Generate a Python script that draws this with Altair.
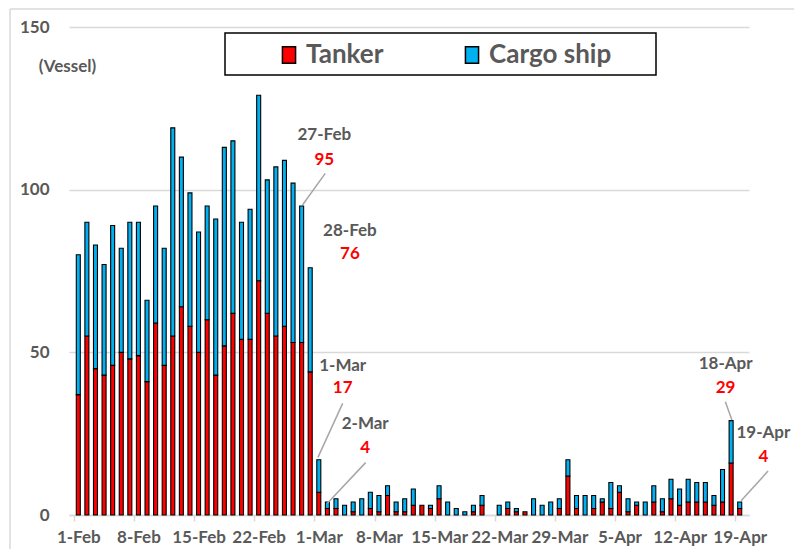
import altair as alt
import pandas as pd

# ---------------- data ----------------
feb_tanker = [37, 55, 45, 43, 46, 50, 48, 49, 41, 59, 46, 55, 64, 58, 50, 60, 43, 52, 62, 54, 54, 72, 62, 55, 58, 53, 53, 44]
feb_cargo = [43, 35, 38, 34, 43, 32, 42, 41, 25, 36, 36, 64, 46, 41, 37, 35, 48, 61, 53, 36, 40, 57, 41, 52, 51, 49, 42, 32]
mar_tanker = [7, 2, 2, 0, 1, 0, 2, 1, 6, 1, 1, 3, 3, 2, 5, 0, 0, 0, 1, 3, 0, 0, 2, 1, 1, 0, 0, 0, 2, 12, 2]
mar_cargo = [10, 2, 3, 3, 3, 5, 5, 5, 3, 3, 4, 5, 0, 1, 4, 4, 2, 1, 2, 3, 0, 3, 2, 1, 0, 5, 3, 4, 3, 5, 4]
apr_tanker = [0, 2, 4, 2, 7, 1, 3, 0, 4, 1, 5, 3, 4, 4, 4, 3, 4, 16, 2]
apr_cargo = [6, 4, 1, 8, 2, 4, 1, 4, 5, 4, 6, 5, 7, 6, 6, 3, 10, 13, 2]

series_names = ["Tanker", "Cargo ship"]
series_colors = ["#FF0000", "#00B0F0"]

tick_dates = ["2022-02-01", "2022-02-08", "2022-02-15", "2022-02-22", "2022-03-01", "2022-03-08",
              "2022-03-15", "2022-03-22", "2022-03-29", "2022-04-05", "2022-04-12", "2022-04-19"]
y_ticks = [0, 50, 100, 150]

ann_dates = ["2022-02-27", "2022-02-28", "2022-03-01", "2022-03-02", "2022-04-18", "2022-04-19"]
ann_names = ["27-Feb", "28-Feb", "1-Mar", "2-Mar", "18-Apr", "19-Apr"]
ann_values = [95, 76, 17, 4, 29, 4]

# annotation layout (offsets in days / vessel units from each bar top)
ann_label_dx = [2.64, 4.62, 2.78, 4.4, -0.64, 2.75]
ann_name_y = [116.8, 87.4, 45.8, 28.0, 46.3, 25.3]
ann_num_y = [109.1, 80.2, 39.0, 20.7, 39.1, 17.9]
ann_line = [(0.1, 95.3, 2.75, 105.0), None, (-0.1, 17.7, 2.78, 34.3), (0.0, 3.6, 4.45, 16.1),
            (0.09, 29.2, -0.67, 34.8), (0.16, 4.4, 3.3, 13.5)]

# ---------------- build tables ----------------
DAY = 86400000


def ms(s):
    return int(pd.Timestamp(s, tz="UTC").timestamp() * 1000)


dates = [d.strftime("%Y-%m-%d") for d in pd.date_range("2022-02-01", "2022-04-19", freq="D")]
tanker = feb_tanker + mar_tanker + apr_tanker
cargo = feb_cargo + mar_cargo + apr_cargo

rows = []
for d, t, c in zip(dates, tanker, cargo):
    if t > 0:
        rows.append({"date": ms(d), "type": "Tanker", "value": t, "ord": 0})
    if c > 0:
        rows.append({"date": ms(d), "type": "Cargo ship", "value": c, "ord": 1})
bars_df = pd.DataFrame(rows)

ann_rows = []
line_rows = []
for i, d in enumerate(ann_dates):
    base = ms(d)
    ann_rows.append({"lx": base + ann_label_dx[i] * DAY, "name_y": ann_name_y[i],
                     "num_y": ann_num_y[i], "name": ann_names[i], "num": str(ann_values[i])})
    if ann_line[i] is not None:
        sx, sy, ex, ey = ann_line[i]
        line_rows.append({"x1": base + sx * DAY, "y1": sy, "x2": base + ex * DAY, "y2": ey})
ann_df = pd.DataFrame(ann_rows)
line_df = pd.DataFrame(line_rows)

FONT = "Lato"
GREY = "#595959"
W, H = 680, 488

x_scale = alt.Scale(type="utc", domain=[ms("2022-01-31") + DAY / 2, ms("2022-04-19") + DAY / 2], nice=False)
y_scale = alt.Scale(domain=[0, 150], nice=False)
half_day_px = W / 78 / 2

bars = alt.Chart(bars_df).mark_bar(size=4.0, stroke="black", strokeWidth=1.1).encode(
    x=alt.X("date:T", scale=x_scale,
            axis=alt.Axis(values=[ms(t) for t in tick_dates], title=None,
                          labelExpr="utcFormat(datum.value, '%-d-%b')",
                          tickOffset=-half_day_px, labelOffset=half_day_px,
                          domainColor="#d9d9d9", domainWidth=1.5, tickColor="#d9d9d9",
                          tickWidth=1.5, tickSize=6, labelPadding=8, grid=False,
                          labelFont=FONT, labelFontSize=17, labelFontWeight="bold",
                          labelColor=GREY, labelFlush=False, labelOverlap=False)),
    y=alt.Y("value:Q", stack="zero", scale=y_scale,
            axis=alt.Axis(values=y_ticks, title="(Vessel)", titleAngle=0, titleX=-2, titleY=39,
                          titleAlign="center", titleBaseline="middle", titleFont=FONT,
                          titleFontSize=17, titleFontWeight="bold", titleColor=GREY,
                          domain=False, ticks=False, labelPadding=20, gridColor="#d9d9d9",
                          gridWidth=1.5, labelFont=FONT, labelFontSize=17,
                          labelFontWeight="bold", labelColor=GREY)),
    color=alt.Color("type:N", scale=alt.Scale(domain=series_names, range=series_colors),
                    legend=alt.Legend(title=None, orient="none", legendX=207, legendY=15,
                                      direction="horizontal", symbolType="M-0.8,-1H0.8V1H-0.8Z",
                                      symbolSize=270, symbolStrokeColor="black",
                                      symbolStrokeWidth=1.5, labelFont=FONT, labelFontSize=26,
                                      labelFontWeight="bold", labelColor=GREY, labelOffset=4,
                                      columnPadding=75, padding=0)),
    order=alt.Order("ord:Q"),
)

one = pd.DataFrame({"k": [0]})
frame_left = alt.Chart(one).mark_rule(color="#d9d9d9", strokeWidth=1.5).encode(
    x=alt.value(-59), y=alt.value(-18), y2=alt.value(H + 200))
frame_top = alt.Chart(one).mark_rule(color="#d9d9d9", strokeWidth=1.5).encode(
    x=alt.value(-59), x2=alt.value(W + 200), y=alt.value(-18))
legend_box = alt.Chart(one).mark_rect(fill="white", stroke="black", strokeWidth=1.5).encode(
    x=alt.value(156), x2=alt.value(587), y=alt.value(6), y2=alt.value(48))

lines = alt.Chart(line_df).mark_rule(color="#a6a6a6", strokeWidth=1.5).encode(
    x=alt.X("x1:T", scale=x_scale), x2="x2:T",
    y=alt.Y("y1:Q", scale=y_scale), y2="y2:Q")

names = alt.Chart(ann_df).mark_text(font=FONT, fontSize=17, fontWeight="bold", color=GREY,
                                    align="center", baseline="middle").encode(
    x=alt.X("lx:T", scale=x_scale), y=alt.Y("name_y:Q", scale=y_scale), text="name:N")
nums = alt.Chart(ann_df).mark_text(font=FONT, fontSize=17, fontWeight="bold", color="#FF0000",
                                   align="center", baseline="middle").encode(
    x=alt.X("lx:T", scale=x_scale), y=alt.Y("num_y:Q", scale=y_scale), text="num:N")

chart = alt.layer(frame_left, frame_top, legend_box, bars, lines, names, nums).properties(
    width=W, height=H,
    autosize=alt.AutoSizeParams(type="none"),
    padding={"left": 61, "top": 19, "right": 45, "bottom": 34},
).configure(background="white").configure_view(stroke=None).configure_axisX(grid=False)

chart.save("out.html", embed_options={"renderer": "svg", "actions": False})
